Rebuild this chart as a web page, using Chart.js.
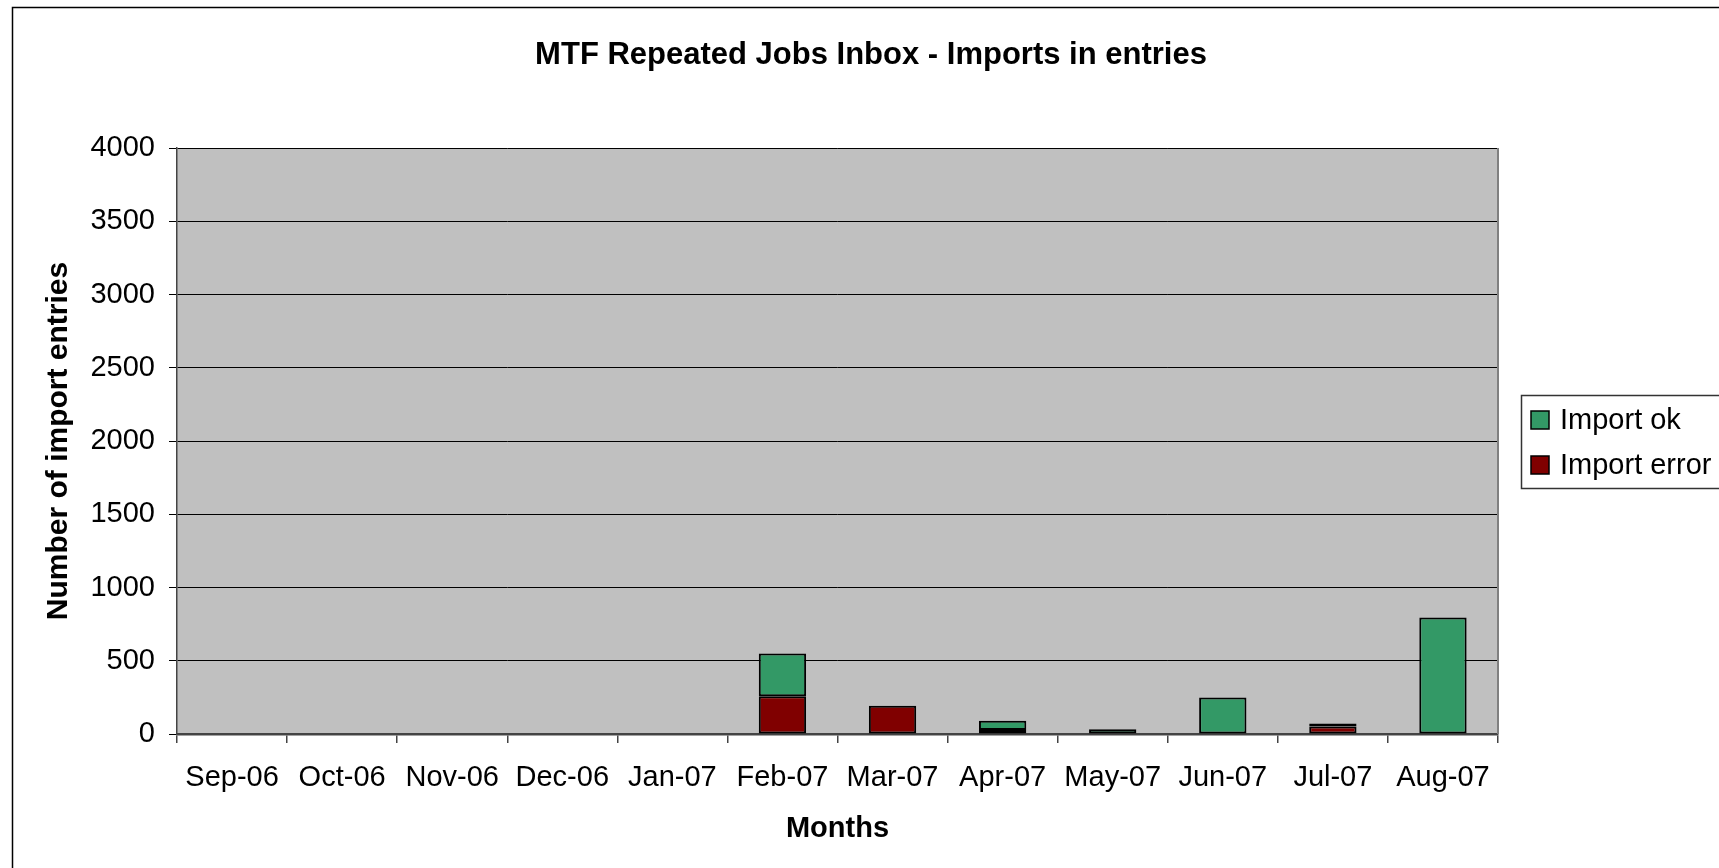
<!DOCTYPE html>
<html>
<head>
<meta charset="utf-8">
<script src="https://cdn.jsdelivr.net/npm/chart.js@4.4.1/dist/chart.umd.min.js"></script>
<style>
  html, body { margin: 0; padding: 0; background: #fff; overflow: hidden; }
  #wrap { position: relative; width: 1719px; height: 868px; }
</style>
</head>
<body>
<div id="wrap"><canvas id="chart"></canvas></div>
<script>
// Data
const months = ["Sep-06", "Oct-06", "Nov-06", "Dec-06", "Jan-07", "Feb-07",
  "Mar-07", "Apr-07", "May-07", "Jun-07", "Jul-07", "Aug-07"];
const importError = [0, 0, 0, 0, 0, 258, 193, 28, 0, 0, 52, 0];
const importOk = [0, 0, 0, 0, 0, 292, 0, 62, 32, 250, 20, 795];
const legendLabels = ["Import ok", "Import error"];

const FONT = "'Liberation Sans', Arial, Helvetica, sans-serif";
const GREEN = "#339966";
const RED = "#800000";

// Gray plot area, outer frame, right edge of plot, title and legend
const framePlugin = {
  id: "frame",
  beforeDraw(chart) {
    const ctx = chart.ctx;
    const a = chart.chartArea;
    ctx.save();
    ctx.fillStyle = "#fff";
    ctx.fillRect(0, 0, chart.width, chart.height);
    ctx.fillStyle = "#C0C0C0";
    ctx.fillRect(a.left, a.top, a.right - a.left, a.bottom - a.top);
    ctx.strokeStyle = "#000";
    ctx.lineWidth = 1.5;
    ctx.strokeRect(12.5, 7.5, 2000, 2000);
    ctx.restore();
  },
  afterDraw(chart) {
    const ctx = chart.ctx;
    const a = chart.chartArea;
    ctx.save();
    ctx.strokeStyle = "#808080";
    ctx.lineWidth = 2;
    ctx.beginPath();
    ctx.moveTo(a.right, a.top);
    ctx.lineTo(a.right, a.bottom);
    ctx.stroke();

    // Title
    ctx.fillStyle = "#000";
    ctx.font = "bold 31px " + FONT;
    ctx.textAlign = "center";
    ctx.textBaseline = "middle";
    ctx.fillText("MTF Repeated Jobs Inbox - Imports in entries", 871, 55);

    // Legend
    ctx.strokeStyle = "#333";
    ctx.lineWidth = 1.5;
    ctx.strokeRect(1521.5, 395.5, 400, 93);
    const colors = [GREEN, RED];
    ctx.font = "29px " + FONT;
    ctx.textAlign = "left";
    legendLabels.forEach((label, i) => {
      const cy = 420 + i * 45;
      ctx.fillStyle = colors[i];
      ctx.fillRect(1531, cy - 9, 18, 18);
      ctx.strokeStyle = "#000";
      ctx.lineWidth = 1.5;
      ctx.strokeRect(1531, cy - 9, 18, 18);
      ctx.fillStyle = "#000";
      ctx.fillText(label, 1560, cy + 1);
    });
    ctx.restore();
  },
};

const ctx = document.getElementById("chart").getContext("2d");
new Chart(ctx, {
  type: "bar",
  data: {
    labels: months,
    datasets: [
      {
        label: "Import error",
        data: importError,
        backgroundColor: RED,
        borderColor: "#000",
        borderWidth: (c) => (c.raw ? 2 : 0),
        borderSkipped: false,
      },
      {
        label: "Import ok",
        data: importOk,
        backgroundColor: GREEN,
        borderColor: "#000",
        borderWidth: (c) => (c.raw ? 2 : 0),
        borderSkipped: false,
      },
    ],
  },
  options: {
    responsive: true,
    maintainAspectRatio: false,
    animation: false,
    datasets: {
      bar: {
        categoryPercentage: 1.0,
        barPercentage: 0.43,
      },
    },
    layout: {
      padding: { left: 0, top: 148, right: 221, bottom: 0 },
    },
    plugins: {
      legend: { display: false },
      title: { display: false },
      tooltip: { enabled: false },
    },
    scales: {
      x: {
        stacked: true,
        afterFit: (scale) => { scale.height = 134; },
        grid: {
          offset: true,
          drawOnChartArea: false,
          drawTicks: true,
          tickLength: 9,
          color: "#444",
          lineWidth: 1.5,
        },
        border: { color: "#444", width: 2.5 },
        ticks: {
          color: "#000",
          font: { family: FONT, size: 29 },
          padding: 18,
          maxRotation: 0,
          autoSkip: false,
        },
        title: {
          display: true,
          text: "Months",
          color: "#000",
          font: { family: FONT, size: 29, weight: "bold" },
          padding: { top: 0, bottom: 22 },
        },
      },
      y: {
        stacked: true,
        min: 0,
        max: 4000,
        afterFit: (scale) => { scale.width = 177; },
        grid: {
          color: "#000",
          lineWidth: 1,
          tickLength: 8,
        },
        border: { color: "#444", width: 1.5 },
        ticks: {
          stepSize: 500,
          color: "#000",
          font: { family: FONT, size: 29 },
          padding: 14,
          callback: (v) => String(v),
        },
        title: {
          display: true,
          text: "Number of import entries",
          color: "#000",
          font: { family: FONT, size: 30, weight: "bold" },
          padding: { top: 41, bottom: 0 },
        },
      },
    },
  },
  plugins: [framePlugin],
});
</script>
</body>
</html>
